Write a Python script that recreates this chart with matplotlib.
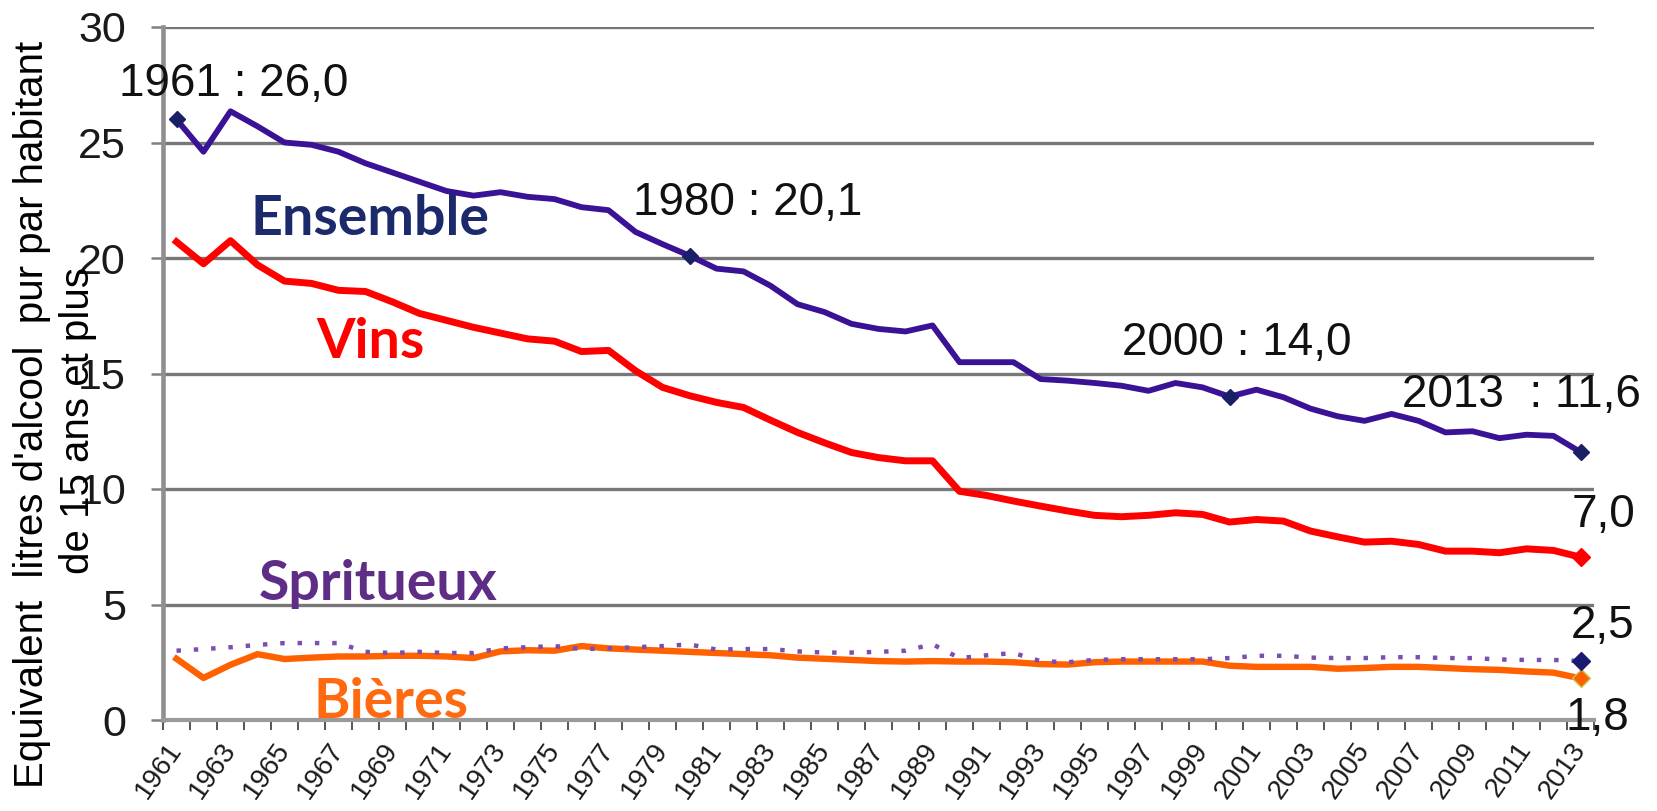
import numpy as np
import matplotlib.pyplot as plt

years = np.arange(1961, 2014)

ensemble = [26.0, 24.6, 26.35, 25.7, 25.0, 24.9, 24.6, 24.1, 23.7, 23.3,
            22.9, 22.7, 22.85, 22.65, 22.55, 22.2, 22.07, 21.13, 20.6, 20.1,
            19.54, 19.42, 18.8, 18.0, 17.66, 17.15, 16.93, 16.82, 17.08, 15.49,
            15.49, 15.49, 14.76, 14.69, 14.59, 14.47, 14.25, 14.59, 14.4, 14.0,
            14.3, 13.97, 13.48, 13.15, 12.95, 13.25, 12.95, 12.45, 12.5, 12.2,
            12.35, 12.3, 11.6]

vins = [20.7, 19.75, 20.75, 19.7, 19.0, 18.9, 18.6, 18.55, 18.1, 17.6,
        17.3, 17.0, 16.75, 16.5, 16.4, 15.95, 16.0, 15.12, 14.4, 14.04,
        13.75, 13.53, 12.98, 12.45, 12.0, 11.58, 11.36, 11.22, 11.22, 9.9,
        9.72, 9.48, 9.26, 9.05, 8.86, 8.8, 8.86, 8.97, 8.9, 8.57,
        8.68, 8.61, 8.18, 7.93, 7.7, 7.74, 7.6, 7.31, 7.31, 7.24,
        7.41, 7.34, 7.05]

spiritueux = [3.0, 3.07, 3.15, 3.25, 3.33, 3.33, 3.33, 2.95, 2.9, 2.95,
              2.9, 2.9, 3.1, 3.15, 3.2, 3.07, 3.1, 3.15, 3.2, 3.27,
              3.05, 3.07, 3.07, 2.97, 2.92, 2.92, 2.95, 3.0, 3.28, 2.68,
              2.8, 2.9, 2.55, 2.5, 2.6, 2.63, 2.63, 2.63, 2.63, 2.68,
              2.78, 2.78, 2.7, 2.68, 2.68, 2.72, 2.72, 2.68, 2.68, 2.62,
              2.6, 2.6, 2.55]

bieres = [2.65, 1.82, 2.39, 2.85, 2.64, 2.7, 2.75, 2.75, 2.78, 2.78,
          2.75, 2.68, 2.97, 3.02, 3.0, 3.2, 3.1, 3.05, 3.0, 2.95,
          2.9, 2.85, 2.8, 2.7, 2.65, 2.6, 2.55, 2.53, 2.55, 2.53,
          2.53, 2.5, 2.42, 2.4, 2.5, 2.53, 2.53, 2.53, 2.53, 2.35,
          2.3, 2.3, 2.3, 2.22, 2.25, 2.3, 2.3, 2.25, 2.2, 2.17,
          2.1, 2.05, 1.8]

# annees annotees sur la courbe Ensemble
annot_idx = [0, 19, 39, 52]
annot_txt = ['1961 : 26,0', '1980 : 20,1', '2000 : 14,0', '2013  : 11,6']
annot_pos = [(1963.1, 27.0), (1982.17, 21.88), (2000.28, 15.81), (2010.8, 13.56)]

fin_txt = ['7,0', '2,5', '1,8']
fin_pos = [(2013.85, 8.36), (2013.83, 3.55), (2013.62, -0.43)]

series_txt = ['Ensemble', 'Vins', 'Spritueux', 'Bières']
series_col = ['#1c2a6c', '#ff0000', '#5e2d86', '#ff6a10']
series_pos = [(1968.17, 21.0), (1968.2, 15.68), (1968.46, 5.2), (1968.94, 0.09)]

fig = plt.figure(figsize=(16.57, 8.11), dpi=100)
ax = fig.add_axes([163 / 1657, 1 - 720 / 811, (1594 - 163) / 1657, (720 - 27) / 811])

ax.plot(years, bieres, color='#ff6000', lw=4.6, solid_joinstyle='round', zorder=3)
ax.plot(years[-1], bieres[-1], marker='D', ms=9, color='#ff6000', mec='#c8c850', mew=1, zorder=6)
ax.plot(years, spiritueux, color='#7b4faf', lw=3.2, ls=(0, (1.0, 2.9)), zorder=4)
ax.plot(years[-1], spiritueux[-1], marker='D', ms=9, color='#1a1a70', zorder=6)
ax.plot(years, vins, color='#ff0000', lw=5.0, solid_joinstyle='round', zorder=4)
ax.plot(years[-1], vins[-1], marker='D', ms=9, color='#ff0000', zorder=6)
ax.plot(years, ensemble, color='#3a1296', lw=4.2, solid_joinstyle='round', zorder=5)
ax.plot(years[annot_idx], np.array(ensemble)[annot_idx], ls='none', marker='D', ms=8,
        color='#1a2066', zorder=6)

for t, (x, y) in zip(annot_txt, annot_pos):
    ax.text(x, y, t, ha='center', va='baseline', fontsize=33, family='Liberation Sans',
            color='#111111', zorder=7)
for t, (x, y) in zip(fin_txt, fin_pos):
    ax.text(x, y, t, ha='center', va='baseline', fontsize=33, family='Liberation Sans',
            color='#111111', zorder=7)
for t, c, (x, y) in zip(series_txt, series_col, series_pos):
    ax.text(x, y, t, ha='center', va='baseline', fontsize=40, family=['Lato', 'DejaVu Sans'],
            fontweight='bold', color=c, zorder=7)

ax.set_xlim(1960.5, 2013.5)
ax.set_ylim(0, 30)
ax.set_yticks(np.arange(0, 31, 5))
ax.set_yticklabels([str(v) for v in range(0, 31, 5)], family='Liberation Sans')
ax.yaxis.grid(True, color='#777777', lw=2.4)
ax.set_axisbelow(True)

ax.set_xticks(years[::2])
ax.set_xticklabels([str(y) for y in years[::2]], family='Liberation Sans')
ax.set_xticks(np.arange(1960.5, 2014, 1), minor=True)
plt.setp(ax.get_xticklabels(), rotation=55, ha='right', va='center', rotation_mode='anchor')

ax.tick_params(axis='y', length=8.6, width=1.8, color='#808080', labelsize=31, pad=18,
               labelcolor='#1a1a1a')
ax.tick_params(axis='x', which='major', length=0, labelsize=20, pad=18, labelcolor='#1a1a1a')
ax.tick_params(axis='x', which='minor', length=7, width=1.4, color='#555555')

for s in ['top', 'right']:
    ax.spines[s].set_visible(False)
ax.spines['left'].set_color('#8f8f8f')
ax.spines['left'].set_linewidth(3.3)
ax.spines['bottom'].set_color('#9a9a9a')
ax.spines['bottom'].set_linewidth(3.0)

fig.text(32 / 1657, 1 - 414 / 811, "Equivalent  litres d'alcool  pur par habitant",
         rotation=90, ha='center', va='center', fontsize=29, family='Liberation Sans')
fig.text(78 / 1657, 1 - 420 / 811, "de 15 ans et plus",
         rotation=90, ha='center', va='center', fontsize=29, family='Liberation Sans')

fig.savefig('out.png', dpi=100)
